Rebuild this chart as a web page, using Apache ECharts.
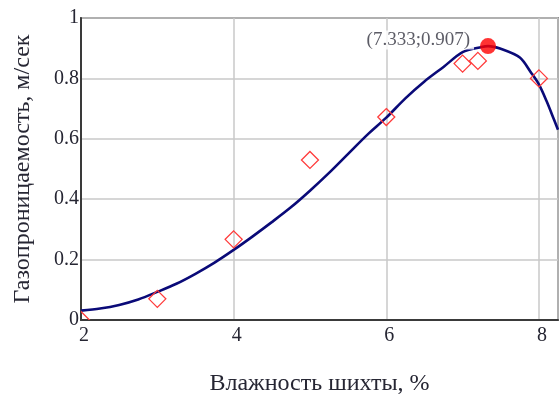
<!DOCTYPE html>
<html>
<head>
<meta charset="utf-8">
<script src="https://cdn.jsdelivr.net/npm/echarts@6/dist/echarts.min.js"></script>
<style>
  html, body { margin: 0; padding: 0; background: #fff; }
  #chart { width: 559px; height: 401px; }
</style>
</head>
<body>
<div id="chart"></div>
<script>
// Measured samples: moisture of the charge (%) vs gas permeability (m/s)
const measuredX = [2, 3, 4, 5, 6, 7, 7.2, 8];
const measuredY = [0.0, 0.07, 0.267, 0.53, 0.672, 0.849, 0.858, 0.80];

// Fitted curve
const fitX = [2.0, 2.25, 2.5, 2.75, 3.0, 3.25, 3.5, 3.75, 4.0, 4.25, 4.5, 4.75, 5.0, 5.25, 5.5, 5.75, 6.0, 6.25, 6.5, 6.75, 7.0, 7.25, 7.333, 7.5, 7.75, 7.9, 8.0, 8.1, 8.2, 8.25];
const fitY = [0.031, 0.038, 0.050, 0.068, 0.093, 0.12, 0.153, 0.19, 0.232, 0.277, 0.324, 0.373, 0.428, 0.487, 0.55, 0.613, 0.67, 0.734, 0.79, 0.838, 0.887, 0.904, 0.907, 0.898, 0.869, 0.818, 0.78, 0.725, 0.662, 0.63];

// Maximum of the fitted curve
const peak = [7.333, 0.907];
const peakLabel = '(7.333;0.907)';

// Axis ticks
const xTicks = [2, 4, 6, 8];
const yTicks = [0, 0.2, 0.4, 0.6, 0.8, 1];

const serif = '"Liberation Serif", "DejaVu Serif", serif';
const textColor = '#262633';
const chart = echarts.init(document.getElementById('chart'), null, { renderer: 'canvas' });

// Hollow diamond marker, clipped to the plot area by the series clip option
function renderDiamond(params, api) {
  const c = api.coord([api.value(0), api.value(1)]);
  const h = 8.5;
  return {
    type: 'polygon',
    shape: { points: [[c[0], c[1] - h], [c[0] + h, c[1]], [c[0], c[1] + h], [c[0] - h, c[1]]] },
    style: { fill: 'none', stroke: '#ff3b3b', lineWidth: 1.3 }
  };
}

chart.setOption({
  animation: false,
  backgroundColor: '#fff',
  grid: {
    left: 81, right: 1, top: 18, bottom: 77,
    show: true, borderColor: '#3a3a3a', borderWidth: 1.5, backgroundColor: '#fff'
  },
  xAxis: {
    type: 'value', min: 2, max: 8.25, interval: 2,
    name: 'Влажность шихты, %',
    nameLocation: 'middle', nameGap: 52,
    nameTextStyle: { fontFamily: serif, fontSize: 24, color: textColor },
    axisLine: { show: true, onZero: false, lineStyle: { color: '#3a3a3a', width: 2 } },
    axisTick: { show: false },
    axisLabel: {
      fontFamily: serif, fontSize: 20, color: textColor, margin: 6, padding: [0, 0, 0, 6],
      showMaxLabel: false,
      formatter: v => (xTicks.indexOf(v) >= 0 ? String(v) : '')
    },
    splitLine: { show: true, lineStyle: { color: '#c8c8c8', width: 1.5 } }
  },
  yAxis: {
    type: 'value', min: 0, max: 1, interval: 0.2,
    name: 'Газопроницаемость, м/сек',
    nameLocation: 'middle', nameGap: 46,
    nameTextStyle: { fontFamily: serif, fontSize: 24, color: textColor },
    axisLine: { show: true, lineStyle: { color: '#3a3a3a', width: 2 } },
    axisTick: { show: false },
    axisLabel: {
      fontFamily: serif, fontSize: 20, color: textColor, margin: 2,
      formatter: v => {
        const t = yTicks.find(k => Math.abs(k - v) < 1e-9);
        return t === undefined ? '' : String(t);
      }
    },
    splitLine: { show: true, lineStyle: { color: '#c8c8c8', width: 1.5 } }
  },
  series: [
    {
      type: 'line',
      data: fitX.map((x, i) => [x, fitY[i]]),
      smooth: 0.3,
      symbol: 'none',
      lineStyle: { color: '#0a0a78', width: 2.6 },
      z: 3
    },
    {
      type: 'custom',
      data: measuredX.map((x, i) => [x, measuredY[i]]),
      renderItem: renderDiamond,
      clip: true,
      z: 4
    },
    {
      type: 'scatter',
      data: [peak],
      symbol: 'circle',
      symbolSize: 16,
      itemStyle: { color: '#ff0000' },
      label: {
        show: true,
        position: 'left',
        distance: 6,
        formatter: peakLabel,
        fontFamily: serif,
        fontSize: 19,
        color: '#333340',
        backgroundColor: '#fff',
        padding: [0, 4, 0, 1],
        offset: [0, -6]
      },
      z: 5
    }
  ]
});
</script>
</body>
</html>
